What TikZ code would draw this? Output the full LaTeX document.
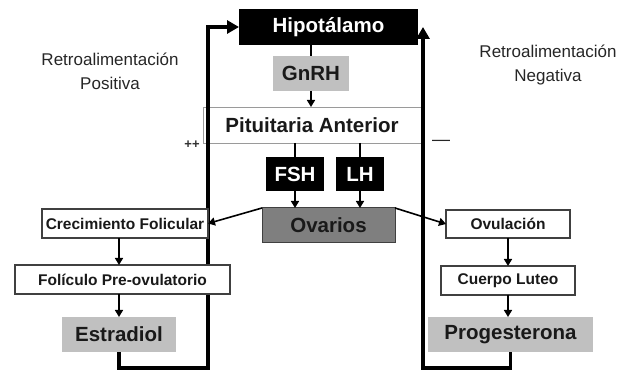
\documentclass[tikz,border=0pt]{standalone}
\usepackage{fontspec}
\setmainfont{Liberation Sans}
\usetikzlibrary{arrows.meta}
\pgfdeclarelayer{bg}
\pgfsetlayers{bg,main}
\definecolor{lgray}{HTML}{C0C0C0}
\definecolor{dgray}{HTML}{7F7F7F}
\definecolor{bordergray}{HTML}{404040}
\definecolor{pitborder}{HTML}{9A9A9A}
\begin{document}
\begin{tikzpicture}[x=1pt,y=-1pt,
  every node/.style={inner sep=0pt, outer sep=0pt},
  bigfont/.style={font=\fontsize{20.5}{24}\selectfont\bfseries},
  smallfont/.style={font=\fontsize{15.5}{18}\selectfont\bfseries},
  blk/.style={bigfont, fill=black, text=white},
  gry/.style={bigfont, fill=lgray, text=black!90},
  wbox/.style={smallfont, draw=bordergray, line width=1.2pt, fill=white, text=black!90},
  conn/.style={line width=1.6pt, -{Triangle[length=7pt,width=8pt]}},
  plainconn/.style={line width=1.6pt},
  fb/.style={line width=3.6pt, -{Triangle[length=12pt,width=13pt]}},
  lbl/.style={align=center, font=\fontsize{17}{24}\selectfont, text=black!85}
]
\useasboundingbox (0,0) rectangle (622,371);

% nodes
\node[blk, minimum width=179pt, minimum height=36pt] (hipo) at (328.5,27) {Hipotálamo};
\node[gry, minimum width=76pt, minimum height=35pt] (gnrh) at (311,73.5) {GnRH};
\begin{pgfonlayer}{bg}
\node[bigfont, draw=pitborder, line width=0.9pt, fill=white, text=black!90, minimum width=218pt, minimum height=36pt] (pit) at (312,125) {Pituitaria Anterior};
\end{pgfonlayer}
\node[blk, minimum width=58pt, minimum height=34pt] (fsh) at (295,174) {FSH};
\node[blk, minimum width=48pt, minimum height=34pt] (lh) at (360,174) {LH};
\node[bigfont, fill=dgray, draw=bordergray, line width=1pt, text=black!90, minimum width=133pt, minimum height=35pt] (ova) at (328.5,225.5) {Ovarios};

\node[wbox, minimum width=166pt, minimum height=29pt] (crec) at (125,223.5) {Crecimiento Folicular};
\node[wbox, minimum width=215pt, minimum height=29pt] (foli) at (122.5,279.5) {Folículo Pre-ovulatorio};
\node[gry, minimum width=114pt, minimum height=35pt] (estr) at (119,334.5) {Estradiol};

\node[wbox, minimum width=124pt, minimum height=28pt] (ovul) at (508,224) {Ovulación};
\node[wbox, minimum width=134pt, minimum height=29pt] (cuer) at (508,280.5) {Cuerpo Luteo};
\node[gry, minimum width=165pt, minimum height=35pt] (prog) at (510.5,334.5) {Progesterona};

\node[lbl] (rpos) at (110,71) {Retroalimentación\\Positiva};
\node[lbl] (rneg) at (548,65.5) {Retroalimentación\\Negativa};
\node[font=\fontsize{13}{14}\selectfont\bfseries, text=black!80] (pp) at (192,145) {++};
\node[font=\fontsize{18}{20}\selectfont, text=black!85] (mm) at (441,143) {—};

% small connectors
\draw[plainconn] (gnrh.north |- hipo.south) -- (gnrh.north);
\draw[conn] (gnrh.south) -- (gnrh.south |- pit.north);
\draw[plainconn] (fsh.north |- pit.south) -- (fsh.north);
\draw[plainconn] (lh.north |- pit.south) -- (lh.north);
\draw[conn] (fsh.south) -- (fsh.south |- ova.north);
\draw[conn] (lh.south) -- (lh.south |- ova.north);
\draw[conn] (ova.north west) -- (crec.east);
\draw[conn] (ova.north east) -- (ovul.west);
\draw[conn] (estr.north |- crec.south) -- (estr.north |- foli.north);
\draw[conn] (estr.north |- foli.south) -- (estr.north);
\draw[conn] (ovul.south) -- (cuer.north);
\draw[conn] (cuer.south) -- (cuer.south |- prog.north);

% feedback loops (behind boxes)
\coordinate (lb) at (208,368);
\coordinate (rb) at (423,368);
\begin{pgfonlayer}{bg}
\draw[fb] (estr.south) |- (lb) -- (lb |- hipo.west) -- (hipo.west);
\draw[fb] (prog.south) |- (rb) -- (rb |- hipo.east);
\end{pgfonlayer}
\end{tikzpicture}
\end{document}
